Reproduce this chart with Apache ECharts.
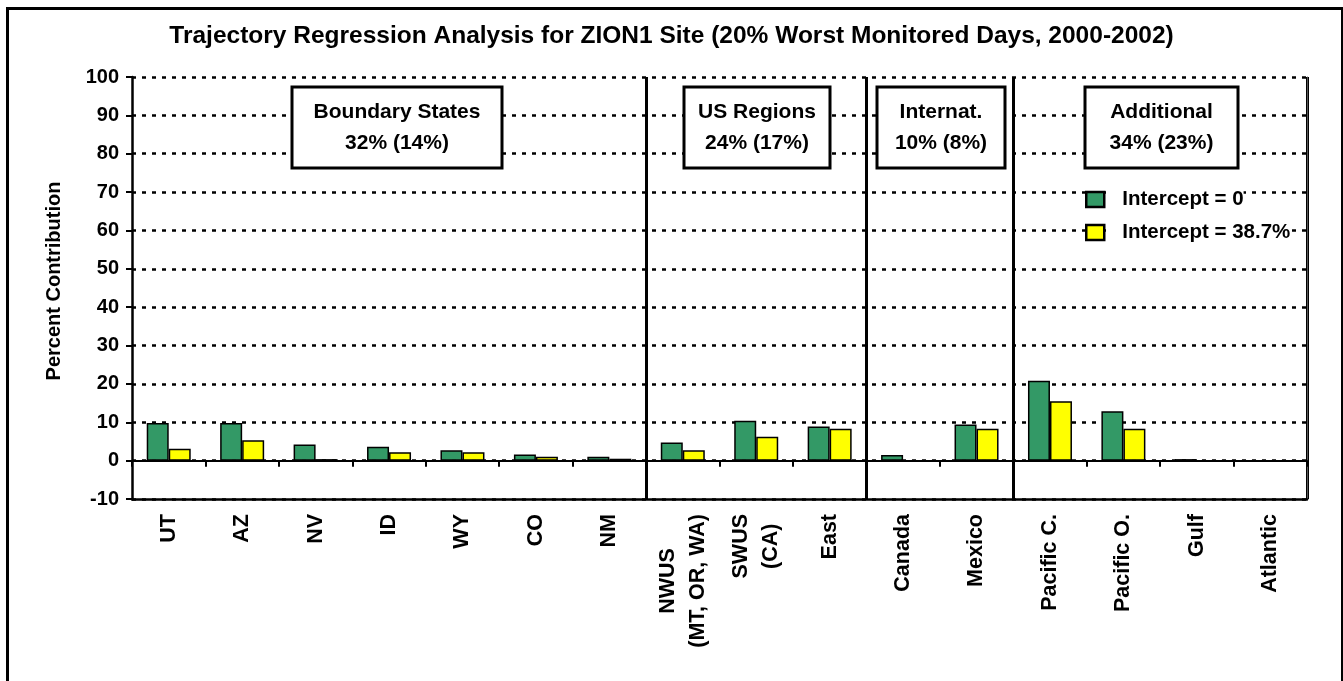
<!DOCTYPE html>
<html><head><meta charset="utf-8">
<script src="https://cdn.jsdelivr.net/npm/echarts@6/dist/echarts.min.js"></script>
<style>html,body{margin:0;padding:0;background:#fff}#c{width:1343px;height:681px}</style>
</head><body><div id="c"></div>
<script>
// ---- data ----
const categories = ['UT','AZ','NV','ID','WY','CO','NM','NWUS\n(MT, OR, WA)','SWUS\n(CA)','East','Canada','Mexico','Pacific C.','Pacific O.','Gulf','Atlantic'];
const seriesNames = ['Intercept = 0','Intercept = 38.7%'];
const interceptZero = [9.8, 9.8, 4.2, 3.6, 2.7, 1.6, 1.0, 4.7, 10.4, 8.9, 1.5, 9.4, 20.8, 12.9, 0.4, 0];
const intercept387  = [3.1, 5.3, 0.4, 2.2, 2.2, 1.0, 0.5, 2.7, 6.2, 8.3, 0, 8.3, 15.5, 8.3, 0, 0];
const yMin = -10, yMax = 100, yStep = 10;
const groupBreaks = [7, 10, 12];           // category index where a new group starts
const groupTitles = ['Boundary States','US Regions','Internat.','Additional'];
const groupShares = ['32% (14%)','24% (17%)','10% (8%)','34% (23%)'];
const titleText = 'Trajectory Regression Analysis for ZION1 Site (20% Worst Monitored Days, 2000-2002)';
const yName = 'Percent Contribution';

// ---- layout / style ----
const FONT = '"Liberation Sans", Arial, Helvetica, sans-serif';
const boxRects = [[292,87,210,81],[684,87,146,81],[877,87,128,81],[1085,87,153,81]];

function multiLine(v){
  if (v.indexOf('\n') < 0) return v;
  return v.split('\n').map(s => '{c|' + s + '}').join('\n');
}

const graphics = [
  {type:'rect', left:5, top:6, shape:{x:0,y:0,width:1335,height:700}, style:{fill:'none', stroke:'#000', lineWidth:3}, silent:true, z:100}
];
boxRects.forEach((r,i) => {
  graphics.push({type:'rect', shape:{x:r[0],y:r[1],width:r[2],height:r[3]}, style:{fill:'#fff', stroke:'#000', lineWidth:3}, z:50});
  graphics.push({type:'text', x:r[0]+r[2]/2, y:r[1]+r[3]/2, style:{text: groupTitles[i] + '\n' + groupShares[i], fontFamily:FONT, fontWeight:'bold', fontSize:21, lineHeight:31, align:'center', verticalAlign:'middle', fill:'#000'}, z:51});
});

const chart = echarts.init(document.getElementById('c'), null, {renderer:'canvas'});
chart.setOption({
  animation:false,
  backgroundColor:'#fff',
  title:{text:titleText, left:'center', top:24, padding:0, textStyle:{fontFamily:FONT, fontWeight:'bold', fontSize:24.5, color:'#000'}},
  grid:{left:132, right:36, top:77, bottom:182, containLabel:false},
  legend:{
    data:seriesNames, orient:'vertical', left:1085, top:189, padding:0, itemGap:12, itemWidth:18, itemHeight:15,
    icon:'rect',
    itemStyle:{borderColor:'#000', borderWidth:2.5},
    textStyle:{fontFamily:FONT, fontWeight:'bold', fontSize:20.5, color:'#000', backgroundColor:'#fff', padding:[0,0,0,13]}
  },
  xAxis:[
    {type:'category', data:categories, position:'bottom',
     axisLine:{onZero:false, lineStyle:{color:'#000', width:2.5}},
     axisTick:{show:false},
     axisLabel:{interval:0, rotate:90, margin:15, fontFamily:FONT, fontWeight:'bold', fontSize:21.5, color:'#000', lineHeight:30,
       formatter: multiLine, rich:{c:{align:'center', fontFamily:FONT, fontWeight:'bold', fontSize:21.5, color:'#000', lineHeight:30}}},
     splitLine:{show:true, interval:(i) => groupBreaks.indexOf(i) >= 0, lineStyle:{color:'#000', width:3, type:'solid'}}
    },
    {type:'category', data:categories, position:'bottom',
     axisLine:{onZero:true, lineStyle:{color:'#000', width:2}},
     axisTick:{show:true, interval:0, length:6, lineStyle:{color:'#000', width:2}},
     axisLabel:{show:false}, splitLine:{show:false}
    }
  ],
  yAxis:[
    {type:'value', min:yMin, max:yMax, interval:yStep, name:yName, nameLocation:'middle', nameGap:68,
     nameTextStyle:{fontFamily:FONT, fontWeight:'bold', fontSize:20, color:'#000', padding:[0,0,0,14]},
     axisLine:{show:true, lineStyle:{color:'#000', width:2.5}},
     axisTick:{show:true, length:6, lineStyle:{color:'#000', width:2}},
     axisLabel:{margin:13, fontFamily:FONT, fontWeight:'bold', fontSize:20, color:'#000'},
     splitLine:{show:true, lineStyle:{color:'#000', width:2.5, type:[4,6]}}
    },
    {type:'value', min:yMin, max:yMax, interval:yStep, position:'right',
     axisLine:{show:true, onZero:false, lineStyle:{color:'#555', width:1}},
     axisTick:{show:false}, axisLabel:{show:false}, splitLine:{show:false}
    }
  ],
  series:[
    {name:seriesNames[0], type:'bar', data:interceptZero, barWidth:22, barGap:'0%', xAxisIndex:0, yAxisIndex:0,
     itemStyle:{color:'#339966', borderColor:'#000', borderWidth:1.5}},
    {name:seriesNames[1], type:'bar', data:intercept387, barWidth:22, barGap:'0%', xAxisIndex:0, yAxisIndex:0,
     itemStyle:{color:'#ffff00', borderColor:'#000', borderWidth:1.5}}
  ],
  graphic: graphics
});
</script></body></html>
